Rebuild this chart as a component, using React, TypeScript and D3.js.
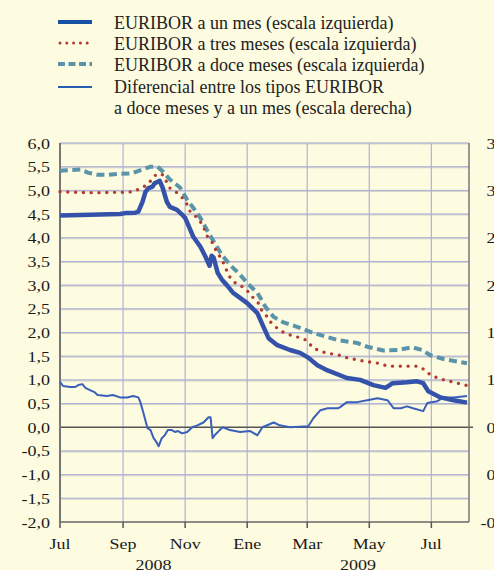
import React from "react";
import * as d3 from "d3";

// ---------- DATA ----------
const oneMonthDates = ["2008-07-01","2008-07-21","2008-08-09","2008-08-29","2008-09-03","2008-09-13","2008-09-16","2008-09-20","2008-09-23","2008-09-26","2008-09-30","2008-10-02","2008-10-07","2008-10-10","2008-10-14","2008-10-17","2008-10-24","2008-10-29","2008-11-01","2008-11-06","2008-11-09","2008-11-16","2008-11-21","2008-11-25","2008-11-27","2008-11-29","2008-12-03","2008-12-07","2008-12-12","2008-12-18","2008-12-25","2009-01-01","2009-01-11","2009-01-17","2009-01-22","2009-01-30","2009-02-12","2009-02-22","2009-03-02","2009-03-11","2009-03-21","2009-04-09","2009-04-22","2009-05-05","2009-05-17","2009-05-24","2009-06-07","2009-06-17","2009-06-23","2009-06-28","2009-07-10","2009-07-23","2009-08-05"];
const oneMonthValues = [4.47,4.48,4.49,4.5,4.52,4.53,4.55,4.75,4.97,5.05,5.08,5.15,5.2,5.05,4.76,4.65,4.59,4.49,4.42,4.17,4.02,3.81,3.6,3.41,3.62,3.58,3.26,3.12,3.0,2.84,2.73,2.62,2.41,2.12,1.88,1.74,1.63,1.57,1.47,1.31,1.2,1.04,1.0,0.89,0.83,0.93,0.95,0.97,0.93,0.76,0.63,0.57,0.52];

const threeMonthDates = ["2008-07-01","2008-08-04","2008-08-29","2008-09-11","2008-09-18","2008-09-25","2008-09-30","2008-10-04","2008-10-10","2008-10-17","2008-10-24","2008-10-29","2008-11-03","2008-11-06","2008-11-13","2008-11-18","2008-11-23","2008-11-28","2008-12-02","2008-12-07","2008-12-12","2008-12-15","2008-12-21","2008-12-28","2009-01-02","2009-01-07","2009-01-12","2009-01-16","2009-01-21","2009-01-24","2009-01-30","2009-02-05","2009-02-12","2009-02-20","2009-02-28","2009-03-07","2009-03-19","2009-04-02","2009-04-10","2009-04-25","2009-05-10","2009-05-19","2009-06-17","2009-06-25","2009-06-30","2009-07-10","2009-07-23","2009-08-05"];
const threeMonthValues = [4.97,4.95,4.96,4.97,5.04,5.12,5.25,5.35,5.33,5.05,4.95,4.85,4.7,4.55,4.42,4.28,4.02,3.89,3.7,3.55,3.3,3.17,3.03,2.96,2.86,2.73,2.62,2.43,2.33,2.22,2.1,2.01,1.95,1.9,1.84,1.67,1.57,1.52,1.46,1.4,1.35,1.29,1.29,1.21,1.1,1.02,0.95,0.88];

const twelveMonthDates = ["2008-07-01","2008-07-03","2008-07-21","2008-07-29","2008-08-07","2008-08-17","2008-08-29","2008-09-10","2008-09-20","2008-09-28","2008-10-05","2008-10-10","2008-10-17","2008-10-27","2008-11-03","2008-11-08","2008-11-16","2008-11-24","2008-11-30","2008-12-07","2008-12-15","2008-12-25","2009-01-02","2009-01-11","2009-01-19","2009-01-27","2009-02-05","2009-02-19","2009-03-07","2009-03-31","2009-04-19","2009-04-29","2009-05-15","2009-05-29","2009-06-12","2009-06-22","2009-06-30","2009-07-13","2009-08-05"];
const twelveMonthValues = [5.4,5.42,5.44,5.37,5.33,5.33,5.35,5.36,5.44,5.5,5.5,5.4,5.23,5.06,4.8,4.66,4.42,4.1,3.89,3.64,3.43,3.22,3.02,2.84,2.54,2.33,2.22,2.12,1.99,1.84,1.78,1.7,1.62,1.63,1.69,1.63,1.52,1.44,1.35];

const spreadDates = ["2008-07-01","2008-07-04","2008-07-11","2008-07-16","2008-07-19","2008-07-23","2008-07-26","2008-07-31","2008-08-04","2008-08-07","2008-08-16","2008-08-22","2008-08-29","2008-09-05","2008-09-11","2008-09-16","2008-09-18","2008-09-21","2008-09-25","2008-09-28","2008-10-01","2008-10-04","2008-10-06","2008-10-09","2008-10-12","2008-10-15","2008-10-19","2008-10-22","2008-10-25","2008-10-29","2008-11-03","2008-11-08","2008-11-13","2008-11-19","2008-11-24","2008-11-26","2008-11-28","2008-11-30","2008-12-05","2008-12-08","2008-12-15","2008-12-25","2009-01-04","2009-01-11","2009-01-16","2009-01-27","2009-02-02","2009-02-12","2009-03-02","2009-03-07","2009-03-14","2009-03-21","2009-03-31","2009-04-02","2009-04-09","2009-04-19","2009-04-29","2009-05-09","2009-05-19","2009-05-25","2009-06-01","2009-06-07","2009-06-13","2009-06-23","2009-06-27","2009-07-07","2009-07-13","2009-07-23","2009-08-05"];
const spreadValues = [0.98,0.935,0.925,0.925,0.945,0.955,0.915,0.89,0.87,0.84,0.83,0.84,0.815,0.815,0.83,0.815,0.765,0.65,0.49,0.47,0.385,0.34,0.3,0.385,0.415,0.47,0.47,0.45,0.46,0.435,0.45,0.5,0.52,0.55,0.605,0.605,0.385,0.415,0.47,0.5,0.47,0.45,0.46,0.415,0.5,0.55,0.52,0.5,0.51,0.595,0.68,0.7,0.7,0.71,0.765,0.765,0.785,0.805,0.785,0.7,0.7,0.72,0.7,0.67,0.755,0.775,0.815,0.815,0.83];

const leftTicks = [6, 5.5, 5, 4.5, 4, 3.5, 3, 2.5, 2, 1.5, 1, 0.5, 0, -0.5, -1, -1.5, -2];
const rightTicks = [3.5, 3, 2.5, 2, 1.5, 1, 0.5, 0, -0.5];
const monthTickDates = ["2008-07-01","2008-09-01","2008-11-01","2009-01-01","2009-03-01","2009-05-01","2009-07-01"];
const monthTickLabels = ["Jul","Sep","Nov","Ene","Mar","May","Jul"];
const yearLabels = ["2008","2009"];
const yearStarts = ["2008-07-01","2009-01-01"];
const yearEnds = ["2009-01-01","2009-08-07"];
const domainDates = ["2008-07-01","2009-08-07"];

const legendLabels = [
  "EURIBOR a un mes (escala izquierda)",
  "EURIBOR a tres meses (escala izquierda)",
  "EURIBOR a doce meses (escala izquierda)",
  "Diferencial entre los tipos EURIBOR",
  "a doce meses y a un mes (escala derecha)",
];

// ---------- STYLE ----------
const W = 494, H = 570;
const M = { left: 60, right: 469, top: 143, bottom: 522 };
const BG = "#FDFBE0";
const C1 = "#3452AA";
const C3 = "#B23A30";
const C12 = "#5A94AA";
const CS = "#3A5FB8";
const GRID = "#AEB2DD";
const FONT = "'Liberation Serif', 'Times New Roman', serif";

const parse = d3.timeParse("%Y-%m-%d");
const fmt = (v: number) => v.toFixed(1).replace(".", ",");

function AxisText({ x, y, anchor, children }: any) {
  return (
    <text
      transform={`translate(${x},${y}) scale(1.2,1)`}
      textAnchor={anchor}
      fontSize={15}
      fontFamily={FONT}
      fill="#1a1a1a"
    >
      {children}
    </text>
  );
}

export default function App() {
  const x = d3.scaleTime().domain(domainDates.map((d) => parse(d)!)).range([M.left, M.right]);
  const y = d3.scaleLinear().domain([-2, 6]).range([M.bottom, M.top]);
  const yR = d3.scaleLinear().domain([-0.5, 3.5]).range([M.bottom, M.top]);

  const mk = (dates: string[], vals: number[]) => dates.map((d, i) => ({ d: parse(d)!, v: vals[i] }));
  const lineL = d3.line<{ d: Date; v: number }>().x((p) => x(p.d)).y((p) => y(p.v)).curve(d3.curveLinear);
  const lineR = d3.line<{ d: Date; v: number }>().x((p) => x(p.d)).y((p) => yR(p.v)).curve(d3.curveLinear);

  const s1 = lineL(mk(oneMonthDates, oneMonthValues)) || "";
  const s3 = lineL(mk(threeMonthDates, threeMonthValues)) || "";
  const s12 = lineL(mk(twelveMonthDates, twelveMonthValues)) || "";
  const sS = lineR(mk(spreadDates, spreadValues)) || "";

  const legendY = [22, 43, 64, 87];
  const legendTextY = [29, 50, 71, 93, 114];

  return (
    <svg
      width={W}
      height={H}
      style={{ position: "absolute", left: 0, top: 0, display: "block" }}
    >
      <rect x={0} y={0} width={W} height={H} fill={BG} />

      {/* legend */}
      <g>
        <line x1={58} x2={92} y1={legendY[0]} y2={legendY[0]} stroke="#1552A3" strokeWidth={4} />
        <line x1={60} x2={92} y1={legendY[1]} y2={legendY[1]} stroke={C3} strokeWidth={3} strokeDasharray="0 6.8" strokeLinecap="round" />
        <line x1={58} x2={92} y1={legendY[2]} y2={legendY[2]} stroke={C12} strokeWidth={4} strokeDasharray="7 3.5" />
        <line x1={58} x2={92} y1={legendY[3]} y2={legendY[3]} stroke="#2760B0" strokeWidth={2} />
        {legendLabels.map((t, i) => (
          <text key={i} x={114} y={legendTextY[i]} fontSize={18} fontFamily={FONT} fill="#222">
            {t}
          </text>
        ))}
      </g>

      {/* horizontal grid */}
      {leftTicks.filter((t) => t !== 0 && t !== -2).map((t) => (
        <g key={"h" + t}>
          <line x1={M.left} x2={M.right} y1={y(t) + 0.5} y2={y(t) + 0.5} stroke="#D6D5C8" strokeWidth={2} />
          <line x1={M.left} x2={M.right} y1={y(t)} y2={y(t)} stroke={GRID} strokeWidth={1} />
        </g>
      ))}
      {/* vertical grid */}
      {monthTickDates.slice(1).map((d) => (
        <line key={"v" + d} x1={x(parse(d)!)} x2={x(parse(d)!)} y1={M.top} y2={M.bottom} stroke={GRID} strokeWidth={1.2} />
      ))}

      {/* axes */}
      <line x1={M.left} x2={M.right + 4} y1={y(0)} y2={y(0)} stroke="#555" strokeWidth={1.5} />
      <line x1={M.left} x2={M.right} y1={M.bottom} y2={M.bottom} stroke="#666" strokeWidth={1.5} />
      <line x1={M.left} x2={M.left} y1={M.top} y2={M.bottom} stroke="#777" strokeWidth={2} />
      <line x1={M.right} x2={M.right} y1={M.top} y2={M.bottom} stroke="#777" strokeWidth={1.5} />
      {monthTickDates.map((d) => (
        <line key={"t" + d} x1={x(parse(d)!)} x2={x(parse(d)!)} y1={M.bottom} y2={M.bottom + 6} stroke="#555" strokeWidth={1.5} />
      ))}

      {/* series */}
      <path d={sS} fill="none" stroke={CS} strokeWidth={2} strokeLinejoin="round" />
      <path d={s12} fill="none" stroke={C12} strokeWidth={4} strokeDasharray="8 4.5" strokeLinejoin="round" />
      <path d={s3} fill="none" stroke={C3} strokeWidth={3.4} strokeDasharray="0 7.8" strokeLinecap="round" strokeLinejoin="round" />
      <path d={s1} fill="none" stroke={C1} strokeWidth={4.5} strokeLinejoin="round" />

      {/* left labels */}
      {leftTicks.map((t) => (
        <AxisText key={"l" + t} x={50} y={y(t) + 5.5} anchor="end">
          {fmt(t)}
        </AxisText>
      ))}
      {/* right labels (partly beyond the edge, as in the reference) */}
      {rightTicks.map((t) => (
        <AxisText key={"r" + t} x={509} y={yR(t) + 5.5} anchor="end">
          {fmt(t)}
        </AxisText>
      ))}
      {/* month labels */}
      {monthTickDates.map((d, i) => (
        <AxisText key={"m" + i} x={x(parse(d)!)} y={549} anchor="middle">
          {monthTickLabels[i]}
        </AxisText>
      ))}
      {/* year labels */}
      {yearLabels.map((yl, i) => {
        const cx = (x(parse(yearStarts[i])!) + x(parse(yearEnds[i])!)) / 2;
        return (
          <AxisText key={"y" + yl} x={cx} y={570} anchor="middle">
            {yl}
          </AxisText>
        );
      })}
    </svg>
  );
}
